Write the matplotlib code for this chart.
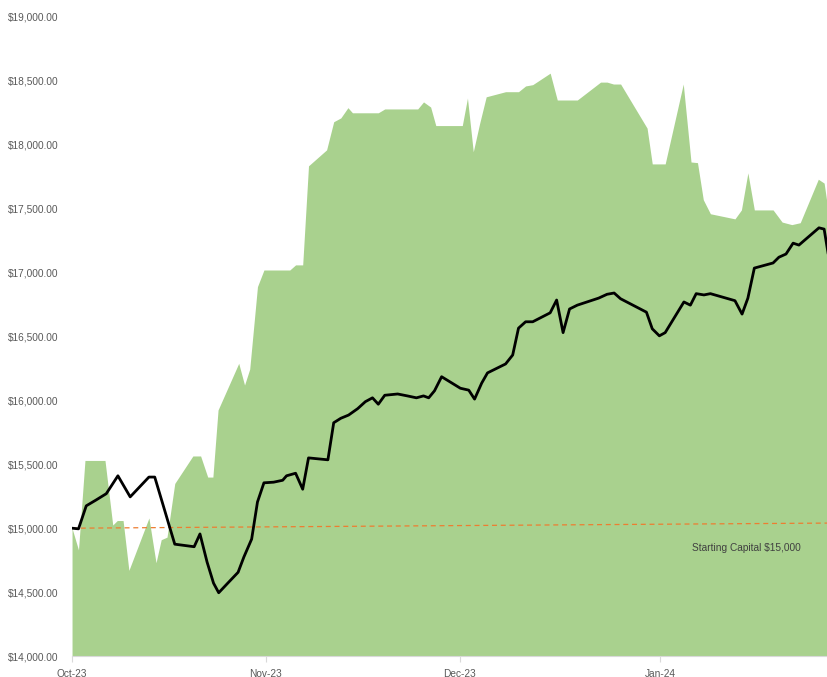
import matplotlib
matplotlib.use("Agg")
from matplotlib import pyplot as plt
from matplotlib.ticker import FuncFormatter

# Позиции точек по оси X (в днях от начала октября)
high_x = [0.0, 1.0, 2.0, 5.1, 6.3, 7.0, 7.9, 8.8, 11.9, 13.0, 13.8, 14.7, 15.9, 18.7, 19.9,
          21.0, 21.8, 22.6, 25.8, 26.7, 27.5, 28.7, 29.7, 33.7, 34.6, 35.7, 36.6, 39.4, 40.5,
          41.6, 42.7, 43.4, 47.4, 48.4, 53.5, 54.4, 55.5, 56.3, 60.4, 61.2, 62.1, 63.1, 64.1,
          67.1, 69.1, 70.2, 71.3, 74.0, 75.1, 78.2, 81.8, 82.8, 83.8, 84.9, 89.0, 89.8, 91.8,
          94.6, 95.8, 96.8, 97.7, 98.8, 102.6, 103.6, 104.6, 105.6, 108.5, 109.9, 111.4, 112.7,
          115.5, 116.4, 117.0]
high_vals = [15000, 14830, 15530, 15530, 15025, 15060, 15060, 14670, 15080, 14730, 14910, 14930,
             15350, 15565, 15565, 15400, 15400, 15925, 16290, 16120, 16245, 16890, 17020, 17020,
             17060, 17060, 17835, 17960, 18180, 18210, 18290, 18250, 18250, 18280, 18280, 18335,
             18295, 18150, 18150, 18365, 17945, 18170, 18375, 18415, 18415, 18460, 18470, 18560,
             18350, 18350, 18490, 18490, 18475, 18475, 18130, 17850, 17850, 18475, 17865, 17860,
             17570, 17460, 17420, 17490, 17780, 17490, 17490, 17395, 17375, 17390, 17730, 17700,
             17490]

equity_x = [0.0, 1.0, 2.2, 3.7, 5.3, 7.1, 9.0, 11.9, 12.8, 14.1, 15.1, 15.9, 18.9, 19.8, 20.9,
            21.9, 22.7, 24.1, 25.7, 26.6, 27.8, 28.7, 29.7, 31.2, 32.6, 33.2, 34.6, 35.7, 36.6,
            39.6, 40.5, 41.6, 42.8, 44.2, 45.4, 46.5, 47.4, 48.4, 50.4, 51.9, 53.3, 54.4, 55.2,
            56.1, 57.2, 60.1, 61.4, 62.3, 63.4, 64.3, 67.1, 68.2, 69.1, 70.2, 71.3, 74.0, 75.0,
            76.0, 77.0, 78.2, 81.5, 82.8, 83.9, 84.9, 88.9, 89.8, 90.9, 91.8, 94.7, 95.7, 96.6,
            97.8, 98.8, 102.6, 103.7, 104.6, 105.6, 108.5, 109.4, 110.5, 111.6, 112.5, 115.6,
            116.4, 117.0]
equity_vals = [15000, 14995, 15175, 15220, 15270, 15410, 15245, 15400, 15400, 15180, 15010, 14875,
               14855, 14955, 14735, 14570, 14495, 14570, 14655, 14775, 14915, 15205, 15355, 15360,
               15375, 15410, 15430, 15305, 15550, 15535, 15825, 15860, 15885, 15935, 15990, 16020,
               15970, 16040, 16050, 16035, 16020, 16035, 16020, 16075, 16185, 16095, 16080, 16010,
               16135, 16215, 16285, 16355, 16565, 16615, 16615, 16685, 16785, 16530, 16715, 16745,
               16800, 16830, 16840, 16795, 16690, 16560, 16505, 16530, 16770, 16745, 16835, 16825,
               16835, 16780, 16675, 16800, 17035, 17075, 17120, 17145, 17230, 17215, 17350, 17340,
               17155]

start_x = [0.0, 117.0]
start_vals = [15000, 15040]

tick_pos = [0, 30, 60, 91]
tick_labels = ["Oct-23", "Nov-23", "Dec-23", "Jan-24"]

fig = plt.figure(figsize=(8.28, 6.77), dpi=100)
ax = fig.add_axes([0.087, 0.031, 0.913, 0.944])

ax.fill_between(high_x, high_vals, 14000, color="#a9d18e", linewidth=0)
ax.plot(start_x, start_vals, color="#ed7d31", linestyle=(0, (4, 3)), linewidth=0.9)
ax.plot(equity_x, equity_vals, color="black", linewidth=2)

ax.text(104.3, 14845, "Starting Capital $15,000", fontsize=7.3, color="#404040",
        ha="center", va="center", family="Liberation Sans")

ax.set_xlim(0, 117)
ax.set_ylim(14000, 19000)
ax.set_yticks(range(14000, 19001, 500))
ax.yaxis.set_major_formatter(FuncFormatter(lambda v, p: f"${v:,.2f}"))
ax.set_xticks(tick_pos)
ax.set_xticklabels(tick_labels)

for s in ["top", "right", "left"]:
    ax.spines[s].set_visible(False)
ax.spines["bottom"].set_color("#d9d9d9")
ax.tick_params(axis="y", length=0, pad=10, labelsize=7.3, labelcolor="#595959")
ax.tick_params(axis="x", length=4, color="#d9d9d9", pad=5, labelsize=7.3, labelcolor="#595959")
for lab in ax.get_xticklabels() + ax.get_yticklabels():
    lab.set_family("Liberation Sans")

fig.savefig("out.png", dpi=100)
